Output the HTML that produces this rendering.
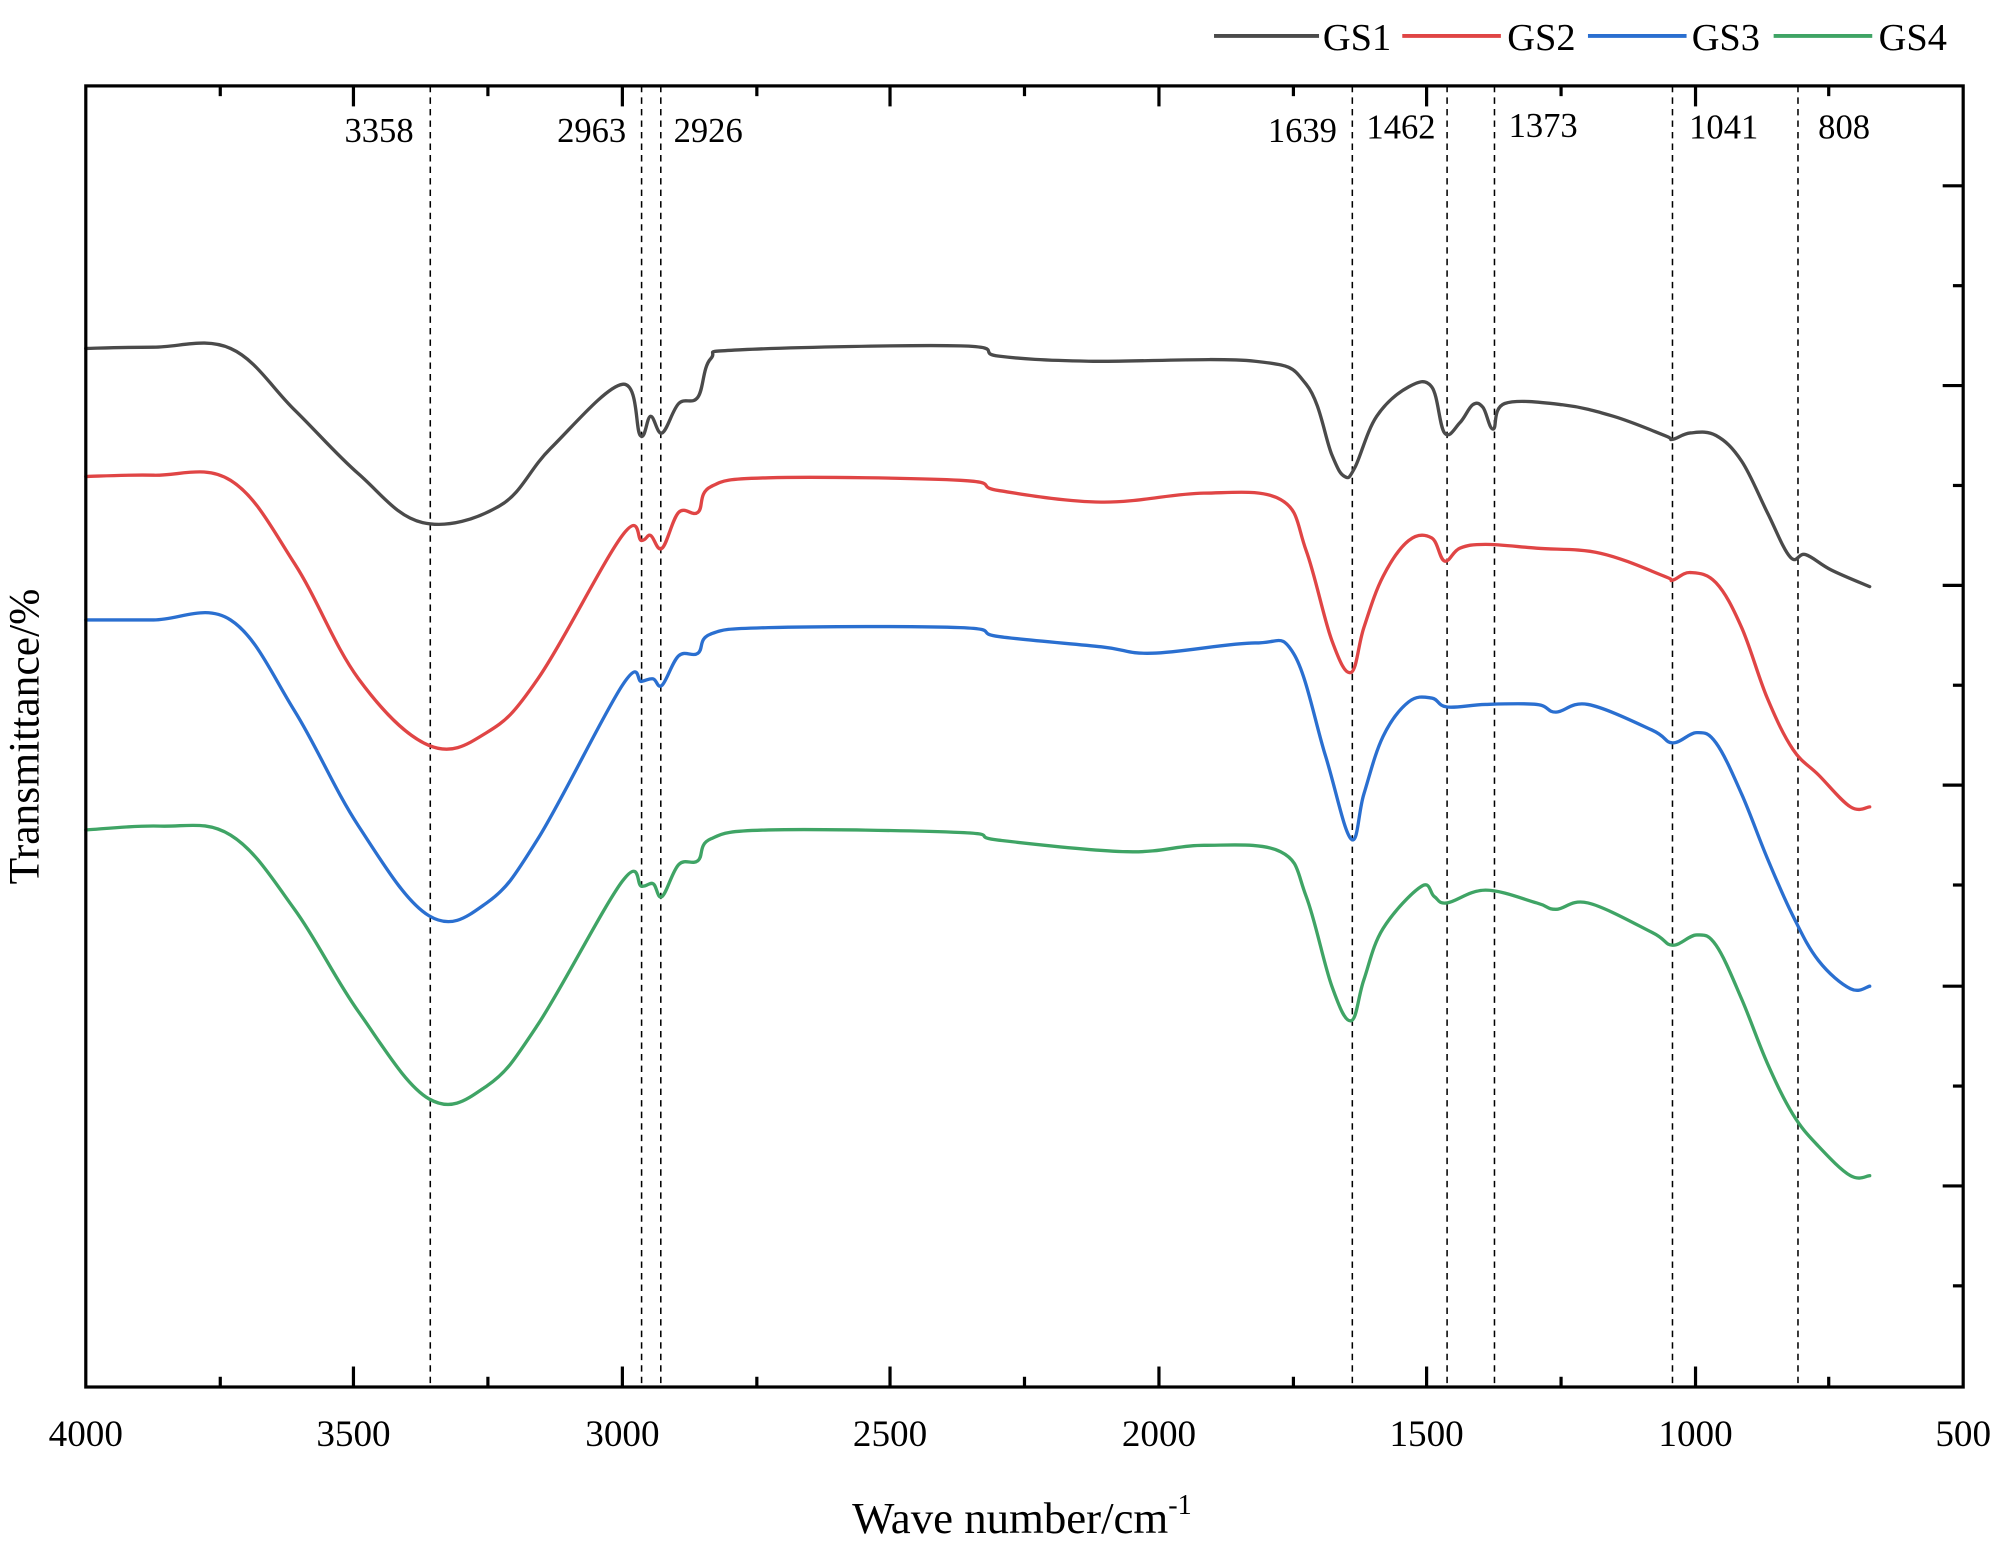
<!DOCTYPE html>
<html><head><meta charset="utf-8"><style>html,body{margin:0;padding:0;background:#fff}svg{display:block}</style></head>
<body>
<svg id="s" width="2008" height="1560" viewBox="0 0 1568 1218" xmlns="http://www.w3.org/2000/svg" font-family="Liberation Serif, serif">
<rect width="1568" height="1218" fill="#fff"/>
<g stroke="#000" stroke-width="1.2" stroke-dasharray="5,4">
<line x1="336" y1="67" x2="336" y2="1083"/>
<line x1="501" y1="67" x2="501" y2="1083"/>
<line x1="516" y1="67" x2="516" y2="1083"/>
<line x1="1056" y1="67" x2="1056" y2="1083"/>
<line x1="1130" y1="67" x2="1130" y2="1083"/>
<line x1="1167" y1="67" x2="1167" y2="1083"/>
<line x1="1306" y1="67" x2="1306" y2="1083"/>
<line x1="1404" y1="67" x2="1404" y2="1083"/>
</g>
<g font-size="27" fill="#000">
<text x="296" y="111" text-anchor="middle">3358</text>
<text x="462" y="111" text-anchor="middle">2963</text>
<text x="553" y="111" text-anchor="middle">2926</text>
<text x="1017" y="111" text-anchor="middle">1639</text>
<text x="1094" y="108" text-anchor="middle">1462</text>
<text x="1205" y="107" text-anchor="middle">1373</text>
<text x="1346" y="108" text-anchor="middle">1041</text>
<text x="1440" y="108" text-anchor="middle">808</text>
</g>
<g id="series" fill="none" stroke-width="2.6" stroke-linejoin="round" stroke-linecap="round">
<polyline stroke="#4a4a4a" points="67,272 120,271 180,272 230,320 280,370 330,408 390,395 430,350 486,300 500,340 508,325 517,338 530,315 545,310 555,280 580,273 750,270 780,278 850,282 980,282 1020,300 1040,355 1050,372 1058,365 1075,325 1100,302 1118,302 1128,338 1140,330 1150,316 1158,318 1166,335 1175,315 1220,316 1260,325 1300,340 1306,343 1320,338 1340,340 1360,360 1380,400 1398,435 1410,433 1430,445 1460,458"/>
<polyline stroke="#e04545" points="67,372 120,371 180,375 230,440 280,530 335,582 380,572 420,530 486,418 501,422 508,418 517,428 530,400 545,400 555,380 600,373 750,375 780,383 860,392 940,385 1000,390 1020,430 1040,500 1055,525 1065,490 1080,450 1100,422 1118,420 1128,438 1140,428 1160,425 1200,428 1250,432 1300,450 1306,453 1320,447 1340,455 1360,490 1380,545 1400,585 1420,605 1445,630 1460,630"/>
<polyline stroke="#2a6fd0" points="67,484 120,484 180,484 230,555 280,645 335,715 380,705 420,655 486,535 501,532 510,530 517,535 530,512 545,510 555,495 600,490 750,490 780,497 860,505 900,510 980,502 1010,510 1035,590 1055,655 1065,620 1080,575 1100,548 1118,545 1130,552 1160,550 1200,550 1215,556 1240,550 1290,570 1306,580 1325,572 1340,580 1360,620 1380,670 1400,715 1420,750 1445,772 1460,770"/>
<polyline stroke="#3fa465" points="67,648 125,645 180,652 230,710 280,790 335,858 380,848 420,800 486,688 501,692 510,690 517,700 530,675 545,672 555,655 600,648 750,650 780,656 880,665 940,660 1000,665 1020,700 1040,770 1055,797 1065,765 1080,725 1110,692 1120,700 1130,705 1160,695 1200,705 1215,710 1240,705 1290,728 1306,738 1325,730 1340,738 1360,780 1380,830 1400,870 1420,895 1445,918 1460,918"/>
</g>
<rect x="67" y="67" width="1466" height="1016" fill="none" stroke="#000" stroke-width="2.5"/>
<g stroke="#000" stroke-width="2.5">
<line x1="276" y1="1083" x2="276" y2="1067"/><line x1="486" y1="1083" x2="486" y2="1067"/><line x1="695" y1="1083" x2="695" y2="1067"/><line x1="905" y1="1083" x2="905" y2="1067"/><line x1="1114" y1="1083" x2="1114" y2="1067"/><line x1="1324" y1="1083" x2="1324" y2="1067"/>
<line x1="172" y1="1083" x2="172" y2="1075"/><line x1="381" y1="1083" x2="381" y2="1075"/><line x1="591" y1="1083" x2="591" y2="1075"/><line x1="800" y1="1083" x2="800" y2="1075"/><line x1="1010" y1="1083" x2="1010" y2="1075"/><line x1="1219" y1="1083" x2="1219" y2="1075"/><line x1="1428" y1="1083" x2="1428" y2="1075"/>
<line x1="276" y1="67" x2="276" y2="83"/><line x1="486" y1="67" x2="486" y2="83"/><line x1="695" y1="67" x2="695" y2="83"/><line x1="905" y1="67" x2="905" y2="83"/><line x1="1114" y1="67" x2="1114" y2="83"/><line x1="1324" y1="67" x2="1324" y2="83"/>
<line x1="172" y1="67" x2="172" y2="75"/><line x1="381" y1="67" x2="381" y2="75"/><line x1="591" y1="67" x2="591" y2="75"/><line x1="800" y1="67" x2="800" y2="75"/><line x1="1010" y1="67" x2="1010" y2="75"/><line x1="1219" y1="67" x2="1219" y2="75"/><line x1="1428" y1="67" x2="1428" y2="75"/>
<line x1="1533" y1="145" x2="1517" y2="145"/><line x1="1533" y1="301" x2="1517" y2="301"/><line x1="1533" y1="457" x2="1517" y2="457"/><line x1="1533" y1="613" x2="1517" y2="613"/><line x1="1533" y1="770" x2="1517" y2="770"/><line x1="1533" y1="926" x2="1517" y2="926"/>
<line x1="1533" y1="223" x2="1525" y2="223"/><line x1="1533" y1="379" x2="1525" y2="379"/><line x1="1533" y1="535" x2="1525" y2="535"/><line x1="1533" y1="691" x2="1525" y2="691"/><line x1="1533" y1="848" x2="1525" y2="848"/><line x1="1533" y1="1004" x2="1525" y2="1004"/>
</g>
<g font-size="29" fill="#000" text-anchor="middle">
<text x="67" y="1129">4000</text><text x="276" y="1129">3500</text><text x="486" y="1129">3000</text><text x="695" y="1129">2500</text><text x="905" y="1129">2000</text><text x="1114" y="1129">1500</text><text x="1324" y="1129">1000</text><text x="1533" y="1129">500</text>
</g>
<text x="798" y="1197" font-size="35" text-anchor="middle">Wave number/cm<tspan dy="-15" font-size="22">-1</tspan></text>
<text transform="translate(30,575) rotate(-90)" font-size="34" text-anchor="middle">Transmittance/%</text>
<g stroke-width="3">
<line x1="948" y1="28" x2="1030" y2="28" stroke="#4a4a4a"/>
<line x1="1095" y1="28" x2="1172" y2="28" stroke="#e04545"/>
<line x1="1240" y1="28" x2="1317" y2="28" stroke="#2a6fd0"/>
<line x1="1385" y1="28" x2="1462" y2="28" stroke="#3fa465"/>
</g>
<g font-size="30" fill="#000">
<text x="1033" y="39">GS1</text><text x="1177" y="39">GS2</text><text x="1321" y="39">GS3</text><text x="1467" y="39">GS4</text>
</g>
</svg>
<script>
(function(){
var NS="http://www.w3.org/2000/svg";
var ps=document.querySelectorAll('#series polyline');
ps.forEach(function(pl){
 var pts=pl.getAttribute('points').trim().split(/\s+/).map(function(s){var a=s.split(',');return [+a[0],+a[1]];});
 var d='M'+pts[0][0]+','+pts[0][1];
 for(var i=0;i<pts.length-1;i++){
  var p0=pts[Math.max(0,i-1)],p1=pts[i],p2=pts[i+1],p3=pts[Math.min(pts.length-1,i+2)];
  var t=0.18;
  var c1x=p1[0]+(p2[0]-p0[0])*t,c1y=p1[1]+(p2[1]-p0[1])*t;
  var c2x=p2[0]-(p3[0]-p1[0])*t,c2y=p2[1]-(p3[1]-p1[1])*t;
  d+=' C'+c1x.toFixed(1)+','+c1y.toFixed(1)+' '+c2x.toFixed(1)+','+c2y.toFixed(1)+' '+p2[0]+','+p2[1];
 }
 var p=document.createElementNS(NS,'path');
 p.setAttribute('d',d);p.setAttribute('stroke',pl.getAttribute('stroke'));
 pl.parentNode.replaceChild(p,pl);
});
})();
</script>
</body></html>
